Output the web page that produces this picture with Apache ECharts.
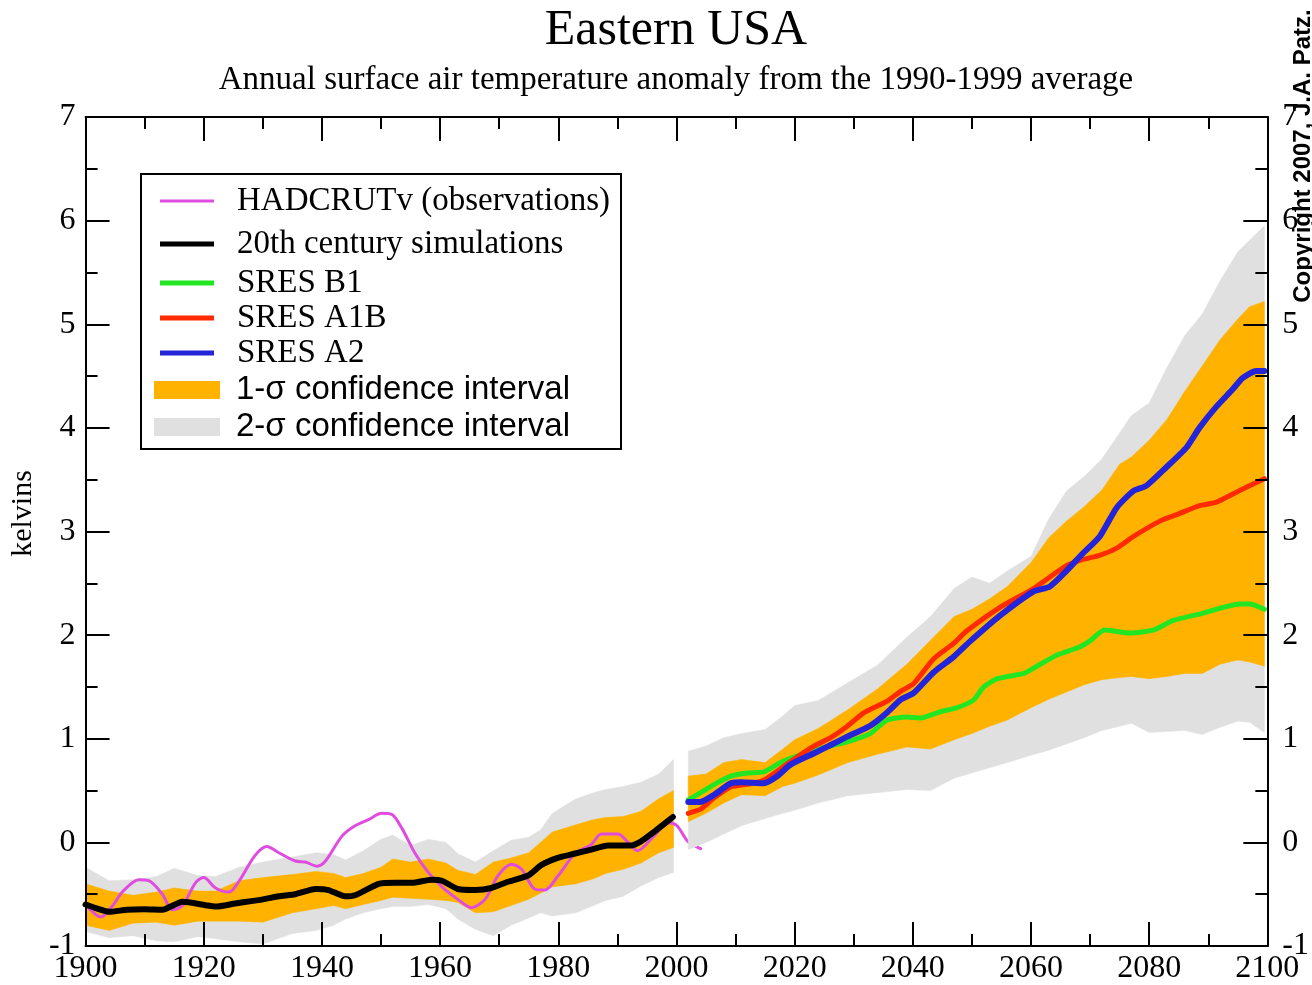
<!DOCTYPE html>
<html><head><meta charset="utf-8">
<script src="https://cdn.jsdelivr.net/npm/echarts@6/dist/echarts.min.js"></script>
<style>html,body{margin:0;padding:0;background:#fff}#c{width:1312px;height:985px}</style>
</head><body><div id="c"></div>
<script>
// ---------- DATA ----------
const xTicks = [1900, 1920, 1940, 1960, 1980, 2000, 2020, 2040, 2060, 2080, 2100];
const yTicks = [-1, 0, 1, 2, 3, 4, 5, 6, 7];

// HADCRUTv observations
const obsYears = [1900,1902.6,1904.6,1906.2,1909,1910.7,1913,1914.7,1916.4,1918.6,1920,1922,1924.3,1925.9,1928.7,1930.7,1932.7,1935.5,1937.2,1939.2,1940.6,1943.4,1945.6,1947.9,1950.1,1951.8,1953.5,1955.7,1958,1960.5,1963,1965.3,1967.6,1969.8,1972.1,1973.8,1976,1977.7,1980,1982.8,1985.6,1987.3,1990.1,1991.8,1993.4,1996.2,1998.8,2000.1,2001.9,2003.3,2004.1];
const obsValues = [-0.60,-0.72,-0.61,-0.48,-0.36,-0.37,-0.50,-0.65,-0.61,-0.39,-0.34,-0.44,-0.48,-0.38,-0.125,-0.04,-0.10,-0.18,-0.19,-0.23,-0.18,0.06,0.16,0.22,0.28,0.27,0.14,-0.10,-0.29,-0.44,-0.55,-0.63,-0.55,-0.32,-0.21,-0.26,-0.45,-0.46,-0.32,-0.11,-0.02,0.08,0.08,0.0,-0.08,0.06,0.19,0.16,0.01,-0.04,-0.06];

// 20th century simulations
const simYears = [1900,1902,1904,1907,1910,1913,1916.4,1920.3,1922,1925.3,1930,1932.7,1935.5,1938.9,1941.1,1943.9,1945.6,1949.6,1952.4,1955.2,1958.6,1960.3,1963,1965.9,1968.7,1971.5,1974.9,1977.1,1979.9,1982.7,1985.6,1988.4,1992.3,1994,1995.7,1997.5,1999.4];
const simValues = [-0.60,-0.64,-0.67,-0.65,-0.645,-0.65,-0.574,-0.606,-0.62,-0.59,-0.55,-0.52,-0.50,-0.45,-0.46,-0.52,-0.51,-0.40,-0.39,-0.39,-0.36,-0.37,-0.45,-0.46,-0.44,-0.38,-0.32,-0.22,-0.15,-0.11,-0.07,-0.03,-0.03,0.01,0.08,0.16,0.245];

// SRES B1
const b1Years = [2002,2004.1,2006.4,2009.2,2012,2014.8,2017.6,2019.3,2023,2026,2028.9,2032.8,2035.6,2039,2041.3,2044.6,2047.5,2050.3,2052,2054.3,2058.8,2061,2064.5,2068,2070.1,2072.4,2076.8,2080.8,2084,2089,2095.3,2097,2099.5];
const b1Values = [0.41,0.48,0.56,0.64,0.67,0.68,0.77,0.81,0.88,0.93,0.97,1.05,1.18,1.21,1.20,1.26,1.30,1.375,1.50,1.58,1.63,1.70,1.81,1.88,1.95,2.05,2.02,2.05,2.14,2.21,2.30,2.30,2.25];

// SRES A1B
const a1bYears = [2002,2004.1,2006.4,2009.2,2012,2014.8,2019.3,2023.3,2026.1,2028.9,2031.7,2035.6,2038,2040.1,2043.5,2046.9,2049.1,2054.8,2060.4,2066,2068.8,2071.6,2074.5,2077.3,2081.8,2085,2088.5,2091.3,2094.1,2096.9,2099.5];
const a1bValues = [0.28,0.32,0.43,0.535,0.56,0.60,0.78,0.93,1.01,1.12,1.25,1.36,1.46,1.53,1.77,1.92,2.04,2.27,2.45,2.67,2.73,2.77,2.84,2.95,3.10,3.17,3.25,3.28,3.36,3.44,3.51];

// SRES A2
const a2Years = [2002,2004,2006.4,2009.2,2011,2014.8,2017.1,2019.3,2023.3,2026.1,2028.9,2032.8,2035.6,2038,2040.1,2043.5,2046.9,2049.5,2054.8,2060.4,2063.2,2066,2068.8,2071.6,2074.5,2077.3,2079.5,2082.9,2086.3,2088.5,2091.3,2094.1,2095.8,2098.1,2099.5];
const a2Values = [0.39,0.39,0.46,0.57,0.58,0.57,0.64,0.75,0.86,0.94,1.02,1.125,1.25,1.38,1.44,1.64,1.79,1.93,2.19,2.42,2.47,2.62,2.79,2.95,3.23,3.39,3.44,3.62,3.81,4.00,4.20,4.37,4.48,4.55,4.55];

// Confidence bands, 20th century
const bandYears20 = [1900,1904,1908,1912,1915,1919,1922,1926,1930,1935,1939,1942,1944,1947,1950,1952,1955,1958,1961,1963,1966,1969,1972,1975,1977,1979,1983,1986,1988,1991,1994,1997,1999.5];
const sigma2Upper20 = [-0.24,-0.37,-0.36,-0.33,-0.25,-0.32,-0.33,-0.24,-0.19,-0.14,-0.10,-0.12,-0.17,-0.08,0.03,0.07,-0.03,0.03,0.00,-0.11,-0.19,-0.08,0.02,0.05,0.12,0.28,0.42,0.48,0.51,0.54,0.58,0.66,0.80];
const sigma2Lower20 = [-0.86,-0.92,-0.90,-0.95,-0.96,-0.91,-0.93,-0.96,-0.98,-0.88,-0.85,-0.80,-0.74,-0.68,-0.64,-0.62,-0.62,-0.60,-0.64,-0.74,-0.84,-0.90,-0.80,-0.73,-0.68,-0.71,-0.68,-0.61,-0.56,-0.52,-0.42,-0.34,-0.29];
const sigma1Upper20 = [-0.40,-0.47,-0.51,-0.48,-0.44,-0.47,-0.47,-0.37,-0.34,-0.31,-0.28,-0.30,-0.34,-0.30,-0.24,-0.16,-0.19,-0.16,-0.20,-0.27,-0.31,-0.19,-0.15,-0.10,0.00,0.10,0.17,0.22,0.24,0.25,0.30,0.42,0.50];
const sigma1Lower20 = [-0.80,-0.85,-0.78,-0.77,-0.80,-0.76,-0.76,-0.76,-0.77,-0.68,-0.64,-0.61,-0.64,-0.60,-0.56,-0.53,-0.54,-0.55,-0.56,-0.58,-0.68,-0.67,-0.61,-0.55,-0.49,-0.43,-0.40,-0.35,-0.30,-0.26,-0.20,-0.10,-0.05];

// Confidence bands, 21st century
const bandYears21 = [2002,2005,2008,2011,2015,2018,2020,2024,2029,2034,2039,2043,2047,2050,2053,2056,2060,2063,2066,2069,2072,2075,2077,2080,2083,2086,2089,2092,2095,2097,2099.5];
const sigma2Upper21 = [0.88,0.93,1.01,1.05,1.09,1.22,1.32,1.37,1.54,1.71,1.98,2.18,2.45,2.56,2.50,2.62,2.76,3.12,3.39,3.53,3.70,3.95,4.12,4.24,4.58,4.89,5.10,5.42,5.70,5.81,5.95];
const sigma2Lower21 = [-0.07,0.00,0.08,0.16,0.23,0.28,0.31,0.38,0.45,0.48,0.51,0.50,0.62,0.67,0.72,0.77,0.84,0.89,0.95,1.01,1.08,1.12,1.15,1.06,1.07,1.08,1.04,1.11,1.17,1.16,1.06];
const sigma1Upper21 = [0.64,0.66,0.77,0.80,0.77,0.90,0.99,1.10,1.28,1.48,1.72,1.95,2.18,2.25,2.35,2.47,2.70,2.94,3.10,3.24,3.40,3.65,3.72,3.88,4.08,4.35,4.60,4.85,5.05,5.17,5.22];
const sigma1Lower21 = [0.20,0.28,0.38,0.46,0.45,0.54,0.57,0.65,0.77,0.85,0.92,0.90,0.99,1.05,1.12,1.18,1.30,1.38,1.45,1.52,1.57,1.59,1.60,1.58,1.60,1.63,1.63,1.72,1.76,1.74,1.70];

// ---------- NAMES / COLOURS ----------
const N_OBS = 'HADCRUTv (observations)';
const N_SIM = '20th century simulations';
const N_B1 = 'SRES B1';
const N_A1B = 'SRES A1B';
const N_A2 = 'SRES A2';
const N_S1 = '1-σ confidence interval';
const N_S2 = '2-σ confidence interval';
const C_OBS = '#E04CE0', C_SIM = '#000000', C_B1 = '#22E622', C_A1B = '#FF2A00', C_A2 = '#2424D8';
const C_S1 = '#FFB300', C_S2 = '#E0E0E0';

// ---------- BUILD ----------
const pairs = (xs, ys) => xs.map((x, i) => [x, ys[i]]);

function bandSeries(name, xs, lo, hi, color, z) {
  return {
    type: 'custom', name, z, silent: true,
    itemStyle: { color },
    encode: { x: 0, y: [1, 2] },
    data: xs.map((x, i) => [x, lo[i], hi[i]]),
    renderItem: function (params, api) {
      if (params.dataIndexInside !== 0) return null;
      const n = params.dataInsideLength;
      const up = [], dn = [];
      for (let i = 0; i < n; i++) {
        const x = api.value(0, i);
        up.push(api.coord([x, api.value(2, i)]));
        dn.push(api.coord([x, api.value(1, i)]));
      }
      return { type: 'polygon', shape: { points: up.concat(dn.reverse()) }, style: { fill: color, stroke: color, lineWidth: 0.5 } };
    }
  };
}
function lineSeries(name, xs, ys, color, width, z, smooth) {
  return {
    type: 'line', name, z, silent: true, symbol: 'none', smooth: smooth || false,
    color, itemStyle: { color }, lineStyle: { color, width, cap: 'round', join: 'round' },
    data: pairs(xs, ys)
  };
}

const axisCommon = {
  type: 'value', z: 10,
  axisLine: { show: true, onZero: false, lineStyle: { color: '#000', width: 2 } },
  axisTick: { show: true, inside: true, length: 24, lineStyle: { color: '#000', width: 2 } },
  minorTick: { show: true, splitNumber: 2, length: 12, lineStyle: { color: '#000', width: 2 } },
  splitLine: { show: false }, minorSplitLine: { show: false }
};
const labelFont = { fontFamily: 'Liberation Serif', fontSize: 32, color: '#000', formatter: v => String(v) };

function lineLegend(name, color, h, cy) {
  return {
    data: [{ name, icon: 'rect', itemStyle: { color } }],
    left: 160, top: cy - 18, itemWidth: 54, itemHeight: h, padding: 0, selectedMode: false, z: 8,
    textStyle: { fontFamily: 'Liberation Serif', fontSize: 33, color: '#000', lineHeight: 36, padding: [0, 0, 0, 18] }
  };
}
function bandLegend(name, color, cy) {
  return {
    data: [{ name, icon: 'rect', itemStyle: { color } }],
    left: 154, top: cy - 18, itemWidth: 66, itemHeight: 18, padding: 0, selectedMode: false, z: 8,
    textStyle: { fontFamily: 'Liberation Sans', fontSize: 33, color: '#000', lineHeight: 36, padding: [0, 0, 0, 11] }
  };
}

const option = {
  backgroundColor: '#fff',
  animation: false,
  title: {
    text: 'Eastern USA',
    subtext: 'Annual surface air temperature anomaly from the 1990-1999 average',
    left: 676, top: 3, textAlign: 'center', padding: 0, itemGap: 3,
    textStyle: { fontFamily: 'Liberation Serif', fontSize: 50, fontWeight: 'normal', color: '#000', lineHeight: 56 },
    subtextStyle: { fontFamily: 'Liberation Serif', fontSize: 33, color: '#000', lineHeight: 36 }
  },
  grid: { left: 83, right: 44, top: 117, bottom: 38, containLabel: false },
  xAxis: [
    Object.assign({}, axisCommon, { position: 'bottom', min: xTicks[0], max: xTicks[xTicks.length - 1], interval: 20,
      axisLabel: Object.assign({ margin: 7 }, labelFont) }),
    Object.assign({}, axisCommon, { position: 'top', min: xTicks[0], max: xTicks[xTicks.length - 1], interval: 20,
      axisLabel: { show: false } })
  ],
  yAxis: [
    Object.assign({}, axisCommon, { position: 'left', min: yTicks[0], max: yTicks[yTicks.length - 1], interval: 1,
      axisLabel: Object.assign({ margin: 10 }, labelFont),
      name: 'kelvins', nameLocation: 'middle', nameGap: 45,
      nameTextStyle: { fontFamily: 'Liberation Serif', fontSize: 30, color: '#000', padding: [0, 0, 0, 36] } }),
    Object.assign({}, axisCommon, { position: 'right', min: yTicks[0], max: yTicks[yTicks.length - 1], interval: 1,
      axisLabel: Object.assign({ margin: 15 }, labelFont) })
  ],
  legend: [
    lineLegend(N_OBS, C_OBS, 3, 201),
    lineLegend(N_SIM, C_SIM, 5, 244),
    lineLegend(N_B1, C_B1, 5, 283),
    lineLegend(N_A1B, C_A1B, 5, 318),
    lineLegend(N_A2, C_A2, 5, 353),
    bandLegend(N_S1, C_S1, 390),
    bandLegend(N_S2, C_S2, 427)
  ],
  graphic: [
    { type: 'rect', z: 5, shape: { x: 141, y: 174, width: 480, height: 275 }, style: { fill: '#fff', stroke: '#000', lineWidth: 2 } },
    { type: 'text', z: 5, x: 1303, y: 156, rotation: Math.PI / 2,
      style: { text: 'Copyright 2007, J.A. Patz.', font: 'bold 24px "Liberation Sans"', fill: '#000', align: 'center', verticalAlign: 'middle' } }
  ],
  series: [
    bandSeries(N_S2, bandYears20, sigma2Lower20, sigma2Upper20, C_S2, 1),
    bandSeries(N_S1, bandYears20, sigma1Lower20, sigma1Upper20, C_S1, 1),
    lineSeries(N_OBS, obsYears, obsValues, C_OBS, 3, 2, 0.3),
    lineSeries(N_SIM, simYears, simValues, C_SIM, 6, 3, 0.2),
    bandSeries(N_S2, bandYears21, sigma2Lower21, sigma2Upper21, C_S2, 4),
    bandSeries(N_S1, bandYears21, sigma1Lower21, sigma1Upper21, C_S1, 4),
    lineSeries(N_B1, b1Years, b1Values, C_B1, 5, 5, 0.2),
    lineSeries(N_A1B, a1bYears, a1bValues, C_A1B, 5, 6, 0.2),
    lineSeries(N_A2, a2Years, a2Values, C_A2, 6, 7, 0.2)
  ]
};

const chart = echarts.init(document.getElementById('c'), null, { renderer: 'canvas' });
chart.setOption(option);
</script>
</body></html>
